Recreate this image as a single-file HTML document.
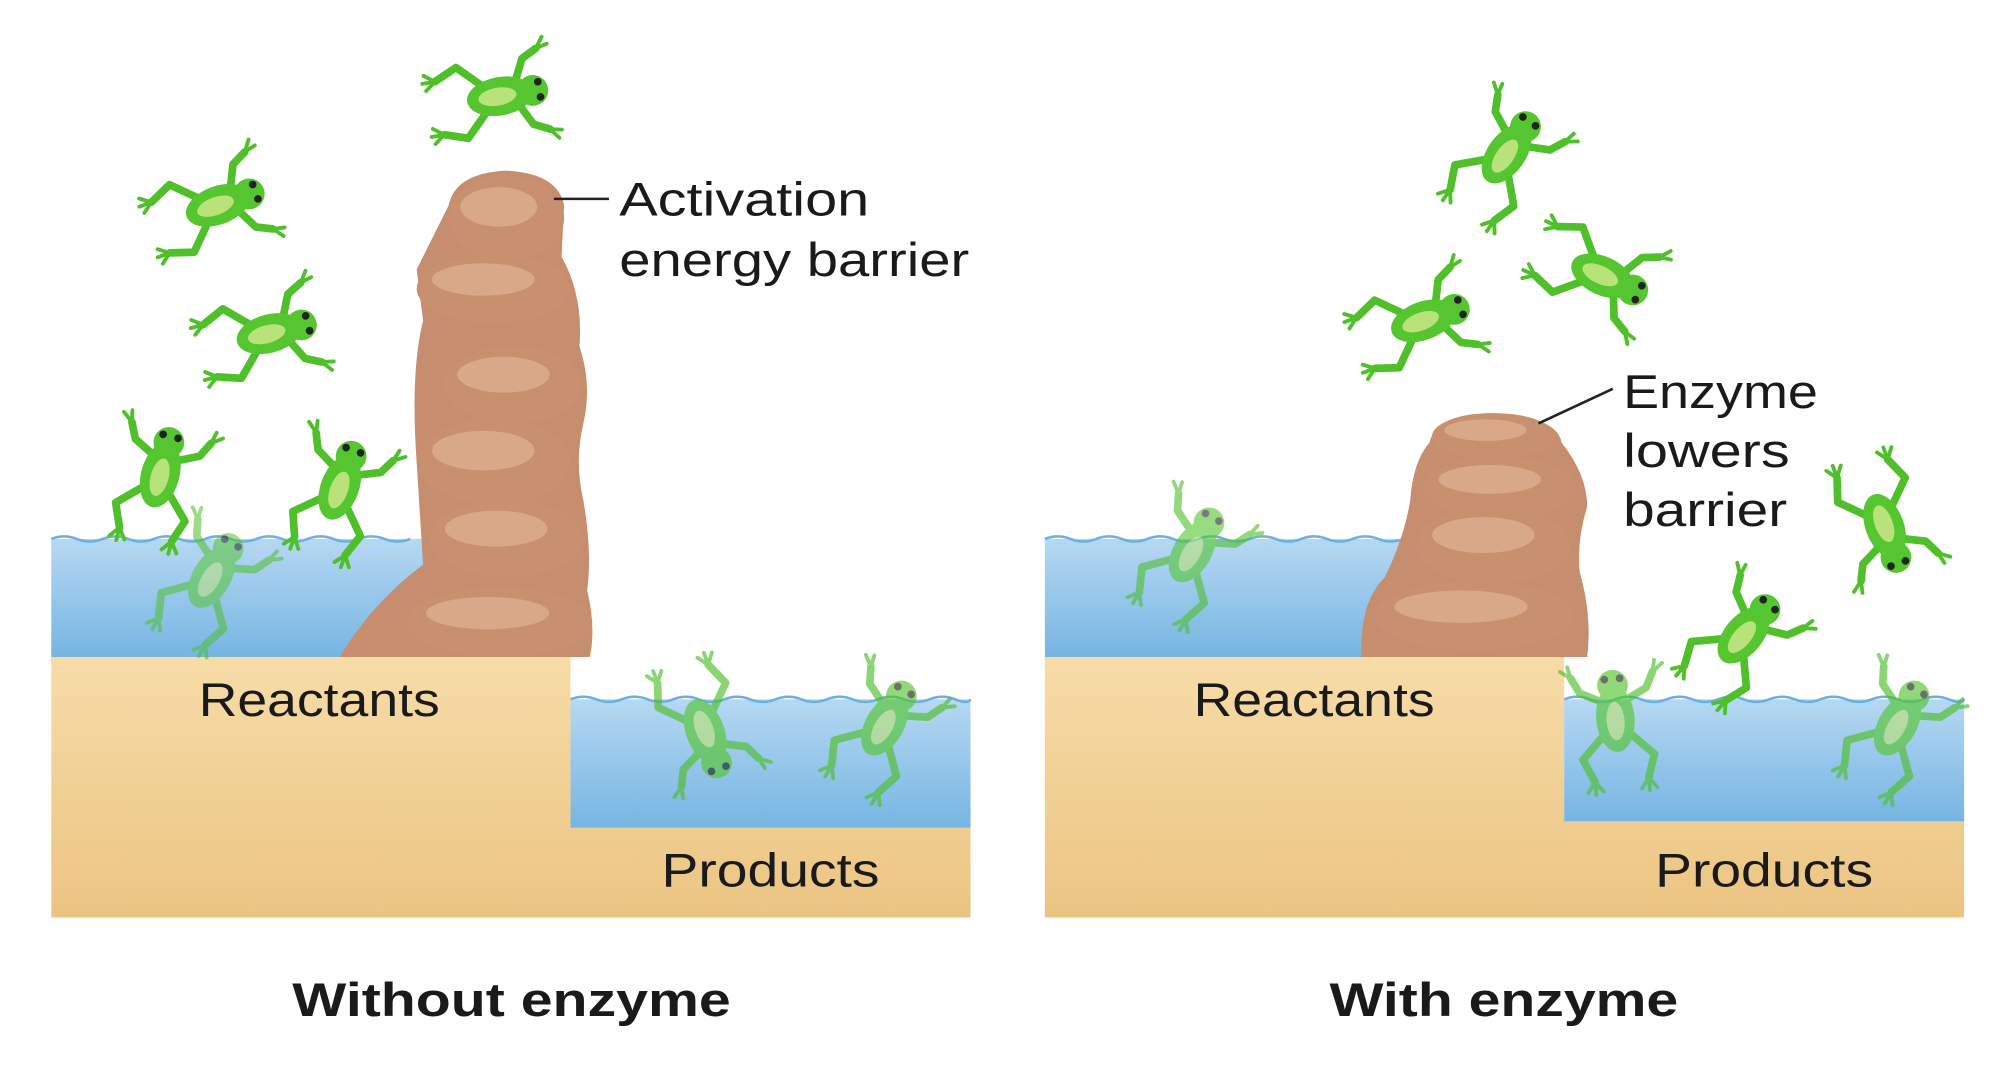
<!DOCTYPE html>
<html><head><meta charset="utf-8"><style>
html,body{margin:0;padding:0;background:#fff;width:2000px;height:1065px;overflow:hidden}
svg{display:block}
text{font-family:"Liberation Sans",Arial,sans-serif;fill:#1a1a1a}
</style></head><body>
<svg width="2000" height="1065" viewBox="0 0 1560 830" preserveAspectRatio="none" xmlns="http://www.w3.org/2000/svg">
<defs>
<linearGradient id="sand" x1="0" y1="0" x2="0" y2="1"><stop offset="0" stop-color="#f7dca8"/><stop offset="1" stop-color="#ebc482"/></linearGradient>
<linearGradient id="water" x1="0" y1="0" x2="0" y2="1"><stop offset="0" stop-color="#b6d8f2"/><stop offset="1" stop-color="#74b4e2"/></linearGradient>
<g id="frog">
 <g fill="none" stroke="#4fbf2a" stroke-width="6" stroke-linecap="round" stroke-linejoin="round">
  <polyline points="-10,-8 -30,-28 -48,-20"/><polyline points="-10,8 -30,28 -48,22"/>
  <polyline points="14,-10 22,-26 34,-32"/><polyline points="14,10 22,26 34,32"/>
 </g>
 <g fill="none" stroke="#4fbf2a" stroke-width="3" stroke-linecap="round">
  <path d="M-48,-20 l-8,-6 M-48,-20 l-10,0 M-48,-20 l-8,6 M-48,22 l-8,-6 M-48,22 l-10,0 M-48,22 l-8,6 M34,-32 l6,-8 M34,-32 l9,-2 M34,32 l6,8 M34,32 l9,2"/>
 </g>
 <ellipse cx="0" cy="0" rx="26" ry="15" fill="#55c62f"/>
 <ellipse cx="-2" cy="0" rx="15" ry="7" fill="#b9e27a"/>
 <circle cx="26" cy="0" r="12" fill="#55c62f"/>
 <circle cx="31" cy="-6" r="3" fill="#222"/><circle cx="31" cy="6" r="3" fill="#222"/>
</g>
<g id="rock"><ellipse cx="0" cy="0" rx="60" ry="30" fill="#c8906f"/><ellipse cx="-8" cy="-8" rx="40" ry="14" fill="#d9a888"/></g>
</defs>

<!-- LEFT PANEL -->
<rect x="40" y="420" width="400" height="95" fill="url(#water)"/>
<path d="M40,420 q10,-4 20,0 t20,0 t20,0 t20,0 t20,0 t20,0 t20,0 t20,0 t20,0 t20,0 t20,0 t20,0 t20,0 t20,0" fill="none" stroke="#6ab0e0" stroke-width="2"/>
<rect x="445" y="545" width="312" height="103" fill="url(#water)"/>
<path d="M445,545 q10,-4 20,0 t20,0 t20,0 t20,0 t20,0 t20,0 t20,0 t20,0 t20,0 t20,0 t20,0 t20,0 t20,0 t20,0 t20,0 t12,0" fill="none" stroke="#6ab0e0" stroke-width="2"/>
<path d="M40,512 L445,512 L445,645 L757,645 L757,715 L40,715 Z" fill="url(#sand)"/>
<path d="M265,512 Q290,470 330,440 L325,360 Q320,290 330,250 L325,210 Q340,180 350,160 Q355,135 395,133 Q435,135 440,160 L438,200 Q455,230 452,270 Q462,300 455,330 Q448,360 455,390 Q462,430 458,460 Q465,490 460,512 Z" fill="#c68d6e"/>
<use href="#rock" transform="translate(395,170) scale(0.75,1.1)"/>
<use href="#rock" transform="translate(385,225) scale(1,0.9)"/>
<use href="#rock" transform="translate(400,300) scale(0.9,1)"/>
<use href="#rock" transform="translate(385,360) scale(1,1.1)"/>
<use href="#rock" transform="translate(395,420) scale(1,1)"/>
<use href="#rock" transform="translate(390,485) scale(1.2,0.9)"/>
<use href="#frog" transform="translate(390,75) rotate(-10)"/>
<use href="#frog" transform="translate(170,160) rotate(-20)"/>
<use href="#frog" transform="translate(210,260) rotate(-15)"/>
<use href="#frog" transform="translate(125,370) rotate(-75)"/>
<use href="#frog" transform="translate(265,380) rotate(-70)"/>
<use href="#frog" opacity="0.55" transform="translate(165,450) rotate(-60)"/>
<use href="#frog" opacity="0.65" transform="translate(550,570) rotate(70)"/>
<use href="#frog" opacity="0.65" transform="translate(690,565) rotate(-60)"/>
<line x1="432" y1="155" x2="475" y2="155" stroke="#222" stroke-width="2"/>
<text x="483" y="168" font-size="37" textLength="195" lengthAdjust="spacingAndGlyphs">Activation</text>
<text x="483" y="215" font-size="37" textLength="273" lengthAdjust="spacingAndGlyphs">energy barrier</text>
<text x="155" y="558" font-size="37" textLength="188" lengthAdjust="spacingAndGlyphs">Reactants</text>
<text x="516" y="691" font-size="37" textLength="170" lengthAdjust="spacingAndGlyphs">Products</text>
<text x="228" y="792" font-size="37" font-weight="bold" textLength="342" lengthAdjust="spacingAndGlyphs">Without enzyme</text>

<!-- RIGHT PANEL -->
<rect x="815" y="420" width="300" height="95" fill="url(#water)"/>
<path d="M815,420 q10,-4 20,0 t20,0 t20,0 t20,0 t20,0 t20,0 t20,0 t20,0 t20,0 t20,0 t20,0 t20,0 t20,0 t20,0 t20,0" fill="none" stroke="#6ab0e0" stroke-width="2"/>
<rect x="1220" y="545" width="312" height="98" fill="url(#water)"/>
<path d="M1220,545 q10,-4 20,0 t20,0 t20,0 t20,0 t20,0 t20,0 t20,0 t20,0 t20,0 t20,0 t20,0 t20,0 t20,0 t20,0 t20,0 t12,0" fill="none" stroke="#6ab0e0" stroke-width="2"/>
<path d="M815,512 L1220,512 L1220,640 L1532,640 L1532,715 L815,715 Z" fill="url(#sand)"/>
<path d="M1062,512 Q1060,470 1080,450 Q1095,420 1100,390 Q1102,360 1115,345 Q1120,322 1165,322 Q1215,325 1218,345 Q1238,370 1238,395 Q1230,420 1232,445 Q1242,480 1238,512 Z" fill="#c68d6e"/>
<use href="#rock" transform="translate(1165,340) scale(0.8,0.6)"/>
<use href="#rock" transform="translate(1170,380) scale(1,0.8)"/>
<use href="#rock" transform="translate(1165,425) scale(1,1)"/>
<use href="#rock" transform="translate(1150,480) scale(1.3,0.9)"/>
<use href="#frog" transform="translate(1175,120) rotate(-55)"/>
<use href="#frog" transform="translate(1250,215) rotate(25)"/>
<use href="#frog" transform="translate(1110,250) rotate(-20)"/>
<use href="#frog" transform="translate(1470,410) rotate(70)"/>
<use href="#frog" transform="translate(1360,495) rotate(-50)"/>
<use href="#frog" opacity="0.6" transform="translate(930,430) rotate(-60)"/>
<use href="#frog" opacity="0.65" transform="translate(1260,560) rotate(-95)"/>
<use href="#frog" opacity="0.65" transform="translate(1480,565) rotate(-60)"/>
<line x1="1200" y1="330" x2="1258" y2="303" stroke="#222" stroke-width="2"/>
<text x="1266" y="318" font-size="37" textLength="152" lengthAdjust="spacingAndGlyphs">Enzyme</text>
<text x="1266" y="364" font-size="37" textLength="130" lengthAdjust="spacingAndGlyphs">lowers</text>
<text x="1266" y="410" font-size="37" textLength="128" lengthAdjust="spacingAndGlyphs">barrier</text>
<text x="931" y="558" font-size="37" textLength="188" lengthAdjust="spacingAndGlyphs">Reactants</text>
<text x="1291" y="691" font-size="37" textLength="170" lengthAdjust="spacingAndGlyphs">Products</text>
<text x="1037" y="792" font-size="37" font-weight="bold" textLength="272" lengthAdjust="spacingAndGlyphs">With enzyme</text>
</svg>
</body></html>
